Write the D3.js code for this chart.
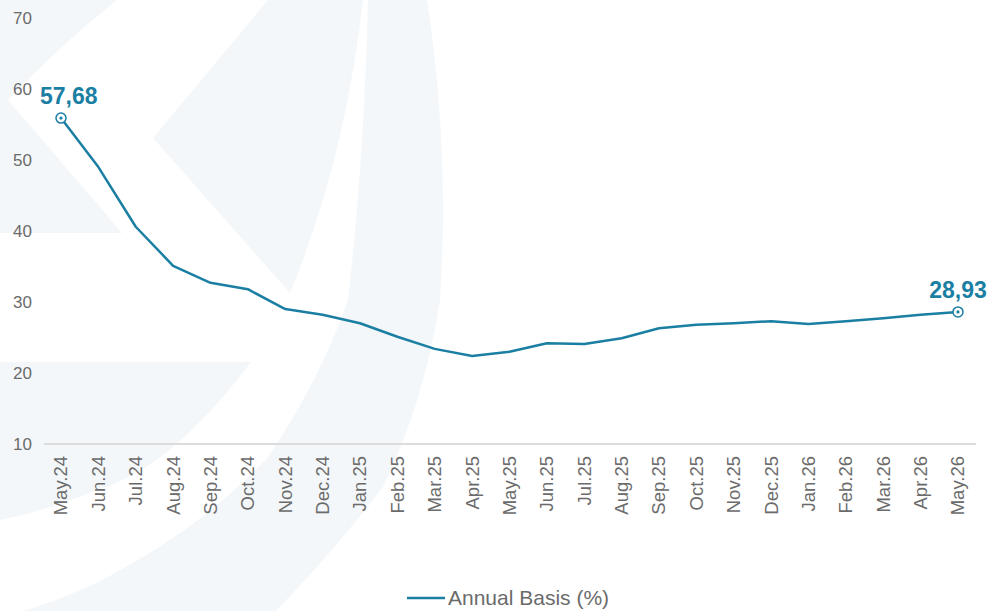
<!DOCTYPE html>
<html>
<head>
<meta charset="utf-8">
<script src="https://cdn.jsdelivr.net/npm/d3@7"></script>
<style>
  body { margin: 0; background: #fff; }
  svg { display: block; font-family: "Liberation Sans", Arial, sans-serif; }
</style>
</head>
<body>
<svg id="chart"></svg>
<script>
const width = 989;
const height = 611;

const months = ["May.24", "Jun.24", "Jul.24", "Aug.24", "Sep.24", "Oct.24", "Nov.24", "Dec.24",
  "Jan.25", "Feb.25", "Mar.25", "Apr.25", "May.25", "Jun.25", "Jul.25", "Aug.25", "Sep.25",
  "Oct.25", "Nov.25", "Dec.25", "Jan.26", "Feb.26", "Mar.26", "Apr.26", "May.26"];
const annualBasis = [55.9, 49.0, 40.6, 35.1, 32.7, 31.8, 29.0, 28.2,
  27.0, 25.1, 23.4, 22.4, 23.0, 24.2, 24.1, 24.9, 26.3,
  26.8, 27.0, 27.3, 26.9, 27.3, 27.7, 28.2, 28.6];
const yTicks = [10, 20, 30, 40, 50, 60, 70];
const endLabels = [{ month: "May.24", text: "57,68" }, { month: "May.26", text: "28,93" }];
const seriesName = "Annual Basis (%)";

const lineColor = "#1b7fa3";
const textColor = "#6b6b6b";

const svg = d3.select("#chart")
  .attr("width", width)
  .attr("height", height);

// faint watermark in the background
const wm = svg.append("g").attr("fill", "#f4f7f9");
wm.append("path").attr("d", "M0,0 L117,0 Q60,45 8,100 L122,233 L0,233 Z");
wm.append("path").attr("d", "M268,0 L153,138 L290,293 Q345,160 363,0 Z");
wm.append("path").attr("d", "M368,0 Q364,160 348,300 Q320,380 268,457 Q200,530 96,583 Q60,600 23,611 L276,611 Q335,550 383,487 Q425,400 440,300 Q450,150 427,0 Z");
wm.append("path").attr("d", "M0,362 L251,362 Q170,470 96,490 Q50,510 0,520 Z");

const x = d3.scalePoint()
  .domain(months)
  .range([61, 958]);

const y = d3.scaleLinear()
  .domain([10, 70])
  .range([444, 18]);

// y labels
svg.append("g")
  .selectAll("text")
  .data(yTicks)
  .join("text")
  .attr("x", 13)
  .attr("y", d => y(d))
  .attr("dy", "0.35em")
  .attr("font-size", "17px")
  .attr("fill", textColor)
  .text(d => d);

// baseline
svg.append("line")
  .attr("x1", 44)
  .attr("x2", 976)
  .attr("y1", y(10))
  .attr("y2", y(10))
  .attr("stroke", "#dcdcdc")
  .attr("stroke-width", 2);

// x labels
svg.append("g")
  .selectAll("text")
  .data(months)
  .join("text")
  .attr("transform", d => `translate(${x(d)},456) rotate(-90)`)
  .attr("text-anchor", "end")
  .attr("dy", "0.35em")
  .attr("font-size", "18.5px")
  .attr("fill", textColor)
  .text(d => d);

// line
const line = d3.line()
  .x((d, i) => x(months[i]))
  .y(d => y(d));

svg.append("path")
  .datum(annualBasis)
  .attr("d", line)
  .attr("fill", "none")
  .attr("stroke", lineColor)
  .attr("stroke-width", 2.5)
  .attr("stroke-linejoin", "round");

// end markers and labels
const ends = svg.append("g")
  .selectAll("g")
  .data(endLabels)
  .join("g")
  .attr("transform", d => `translate(${x(d.month)},${y(annualBasis[months.indexOf(d.month)])})`);

ends.append("circle")
  .attr("r", 5)
  .attr("fill", "#fff")
  .attr("stroke", lineColor)
  .attr("stroke-width", 1.5);

ends.append("circle")
  .attr("r", 1.6)
  .attr("fill", lineColor);

ends.append("text")
  .attr("y", -14)
  .attr("text-anchor", "middle")
  .attr("font-size", "23px")
  .attr("font-weight", "bold")
  .attr("fill", lineColor)
  .text(d => d.text)
  .attr("x", function (d) {
    const half = this.getComputedTextLength() / 2;
    const px = x(d.month);
    return Math.max(px, 40 + half) - px;
  });

// legend
const legend = svg.append("g").attr("transform", "translate(407,598)");
legend.append("line")
  .attr("x1", 0)
  .attr("x2", 38)
  .attr("stroke", lineColor)
  .attr("stroke-width", 2.5);
legend.append("text")
  .attr("x", 41)
  .attr("dy", "0.35em")
  .attr("font-size", "21px")
  .attr("fill", textColor)
  .text(seriesName);
</script>
</body>
</html>
